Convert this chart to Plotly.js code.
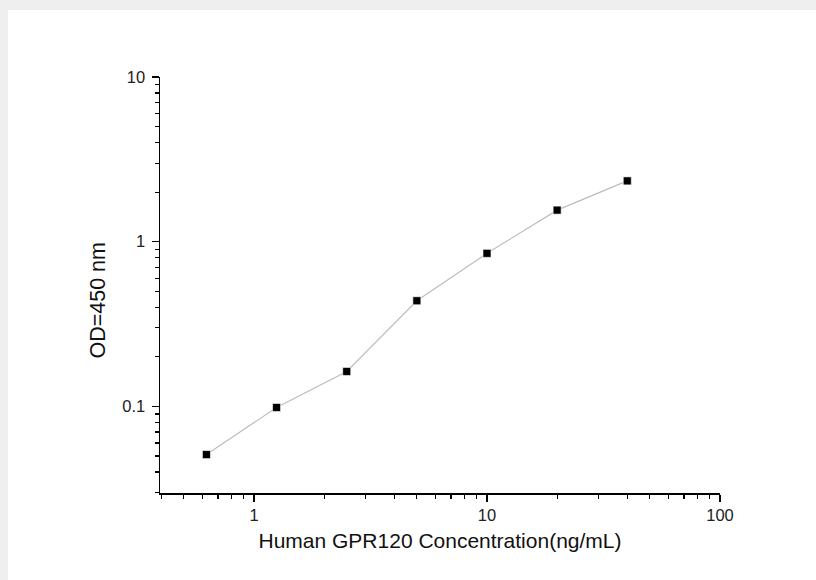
<!DOCTYPE html>
<html>
<head>
<meta charset="utf-8">
<script src="https://cdn.plot.ly/plotly-3.0.1.min.js"></script>
<style>
  html, body { margin: 0; padding: 0; background: #efefef; width: 816px; height: 580px; overflow: hidden; }
  #chart { position: absolute; left: 8px; top: 10px; width: 808px; height: 570px; background: #ffffff; }
</style>
</head>
<body>
<div id="chart"></div>
<script>
const concentration = [0.625, 1.25, 2.5, 5, 10, 20, 40];
const odValues = [0.051, 0.0985, 0.163, 0.438, 0.85, 1.555, 2.34];
const xTickVals = [1, 10, 100];
const xTickText = ['1', '10', '100'];
const yTickVals = [0.1, 1, 10];
const yTickText = ['0.1', '1', '10'];
const xTitle = 'Human GPR120 Concentration(ng/mL)';
const yTitle = 'OD=450 nm';

const trace = {
  x: concentration,
  y: odValues,
  type: 'scatter',
  mode: 'lines+markers',
  line: { color: '#bdbdbd', width: 1.2 },
  marker: { symbol: 'square', size: 8, color: '#000000', line: { color: '#ffffff', width: 0.6 } },
  hoverinfo: 'skip',
  showlegend: false
};

const fontFam = 'Liberation Sans, Arial, sans-serif';

const layout = {
  width: 808,
  height: 570,
  margin: { l: 151.5, r: 96, t: 67, b: 87 },
  paper_bgcolor: '#ffffff',
  plot_bgcolor: '#ffffff',
  font: { family: fontFam, color: '#000000' },
  xaxis: {
    type: 'log',
    range: [Math.log10(0.395), 2],
    showgrid: false,
    zeroline: false,
    showline: true,
    linecolor: '#000000',
    linewidth: 1.5,
    ticks: 'outside',
    ticklen: 7,
    tickwidth: 1.3,
    tickcolor: '#000000',
    tickvals: xTickVals,
    ticktext: xTickText,
    tickfont: { size: 16.5, family: fontFam, color: '#222222' },
    minor: { ticks: 'outside', ticklen: 4, tickwidth: 1.2, tickcolor: '#000000', showgrid: false,
             tickvals: [0.4,0.5,0.6,0.7,0.8,0.9,2,3,4,5,6,7,8,9,20,30,40,50,60,70,80,90] },
    title: { text: xTitle, font: { size: 21, family: fontFam, color: '#111111' }, standoff: 10 }
  },
  yaxis: {
    type: 'log',
    range: [Math.log10(0.0298), 1],
    showgrid: false,
    zeroline: false,
    showline: true,
    linecolor: '#000000',
    linewidth: 1.5,
    ticks: 'outside',
    ticklen: 7,
    tickwidth: 1.3,
    tickcolor: '#000000',
    tickvals: yTickVals,
    ticktext: yTickText,
    ticklabelstandoff: 3,
    tickfont: { size: 16.5, family: fontFam, color: '#222222' },
    minor: { ticks: 'outside', ticklen: 4, tickwidth: 1.2, tickcolor: '#000000', showgrid: false,
             tickvals: [0.03,0.04,0.05,0.06,0.07,0.08,0.09,0.2,0.3,0.4,0.5,0.6,0.7,0.8,0.9,2,3,4,5,6,7,8,9] }
  },
  annotations: [{
    text: yTitle,
    xref: 'paper', yref: 'paper',
    x: -0.1115, y: 0.464,
    xanchor: 'center', yanchor: 'middle',
    textangle: -90,
    showarrow: false,
    font: { size: 21.5, family: fontFam, color: '#111111' }
  }]
};

Plotly.newPlot('chart', [trace], layout, { staticPlot: true, displayModeBar: false });
</script>
</body>
</html>
